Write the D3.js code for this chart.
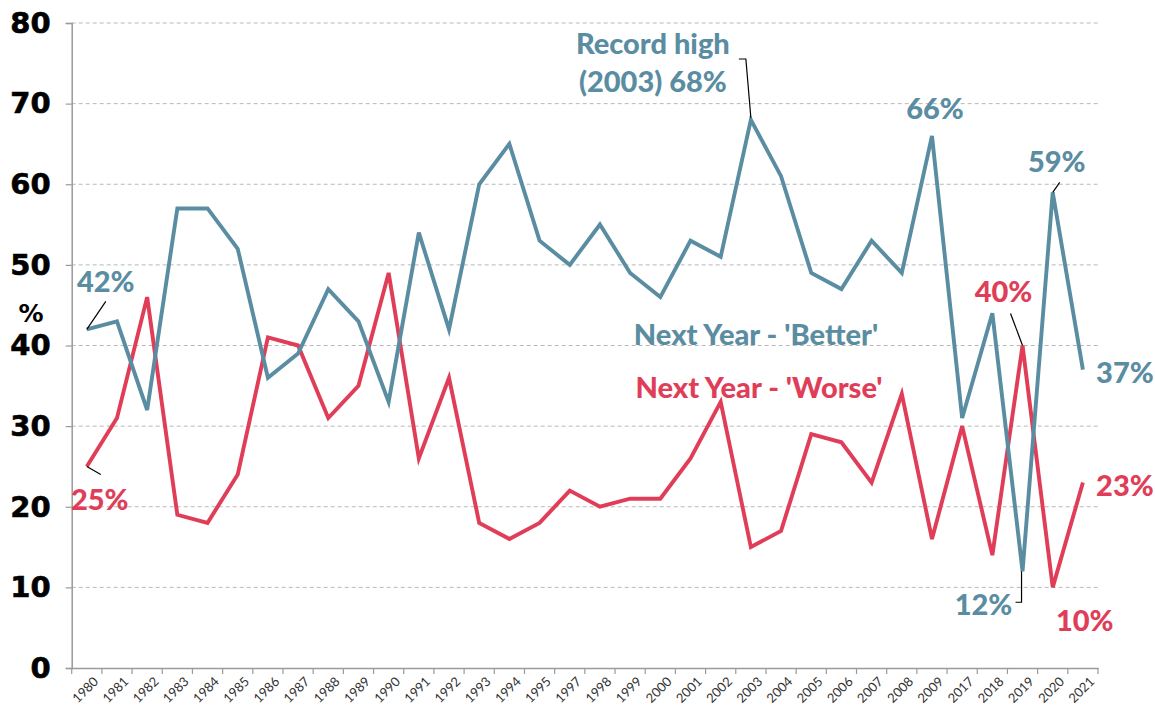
<!DOCTYPE html>
<html>
<head>
<meta charset="utf-8">
<script src="https://cdn.jsdelivr.net/npm/d3@7"></script>
<style>
  body { margin: 0; background: #fff; }
  svg { display: block; }
</style>
</head>
<body>
<div id="chart"></div>
<script>
// Data
const years = ["1980","1981","1982","1983","1984","1985","1986","1987","1988","1989","1990",
  "1991","1992","1993","1994","1995","1997","1998","1999","2000","2001","2002","2003","2004",
  "2005","2006","2007","2008","2009","2017","2018","2019","2020","2021"];
const better = [42,43,32,57,57,52,36,39,47,43,33,54,42,60,65,53,50,55,49,46,53,51,68,61,49,47,53,49,66,31,44,12,59,37];
const worse  = [25,31,46,19,18,24,41,40,31,35,49,26,36,18,16,18,22,20,21,21,26,33,15,17,29,28,23,34,16,30,14,40,10,23];
const yTicks = [0,10,20,30,40,50,60,70,80];

const BLUE = "#5a8da2";
const RED = "#e03e58";
const LABEL_FONT = "Lato, 'Open Sans', sans-serif";

const width = 1155, height = 714;
const margin = { left: 71.7, right: 57, top: 23, bottom: 46 };

const svg = d3.select("#chart").append("svg")
  .attr("width", width).attr("height", height);

const x = d3.scaleBand().domain(years).range([margin.left, width - margin.right]);
const y = d3.scaleLinear().domain([0, 80]).range([height - margin.bottom, margin.top]);
const px = (yr) => x(yr) + x.bandwidth() / 2;

// gridlines
svg.append("g")
  .selectAll("line")
  .data(yTicks.filter((d) => d > 0))
  .join("line")
  .attr("x1", margin.left).attr("x2", width - margin.right)
  .attr("y1", (d) => y(d)).attr("y2", (d) => y(d))
  .attr("stroke", "#b8b8b8").attr("stroke-width", 1)
  .attr("stroke-dasharray", "4 3");

// y axis
const yAxis = svg.append("g")
  .attr("transform", `translate(${margin.left},0)`)
  .call(d3.axisLeft(y).tickValues(yTicks).tickSize(6).tickPadding(15));
yAxis.select(".domain").attr("stroke", "#9a9a9a").attr("stroke-width", 1.5);
yAxis.selectAll(".tick line").attr("stroke", "#9a9a9a").attr("stroke-width", 1.2);
yAxis.selectAll("text")
  .attr("font-family", "'DejaVu Sans', Verdana, sans-serif")
  .attr("font-weight", "bold").attr("font-size", 29).attr("fill", "#000")
  .style("paint-order", "stroke").attr("stroke", "#000").attr("stroke-width", 0.6);

// x axis
const xAxis = svg.append("g")
  .attr("transform", `translate(0,${y(0)})`)
  .call(d3.axisBottom(x).tickSize(0).tickSizeOuter(0));
xAxis.select(".domain").attr("stroke", "#9a9a9a").attr("stroke-width", 1.5);
xAxis.selectAll(".tick text")
  .attr("font-family", LABEL_FONT).attr("font-size", 13).attr("fill", "#333")
  .attr("text-anchor", "end")
  .attr("transform", "translate(7,9) rotate(-45)")
  .attr("dy", "0.35em");
// tick marks at band boundaries
svg.append("g")
  .selectAll("line")
  .data(years.concat(["end"]))
  .join("line")
  .attr("x1", (d, i) => margin.left + i * x.step())
  .attr("x2", (d, i) => margin.left + i * x.step())
  .attr("y1", y(0)).attr("y2", y(0) + 6)
  .attr("stroke", "#9a9a9a").attr("stroke-width", 1.2);

// "%" axis label
svg.append("text")
  .attr("x", 31).attr("y", 322)
  .attr("text-anchor", "middle")
  .attr("font-family", "'DejaVu Sans', Verdana, sans-serif")
  .attr("font-weight", "bold").attr("font-size", 25)
  .text("%");

// lines
const line = (vals) => d3.line()
  .x((d, i) => px(years[i]))
  .y((d) => y(d))(vals);

svg.append("path").attr("d", line(worse))
  .attr("fill", "none").attr("stroke", RED).attr("stroke-width", 3.9)
  .attr("stroke-linejoin", "miter");
svg.append("path").attr("d", line(better))
  .attr("fill", "none").attr("stroke", BLUE).attr("stroke-width", 3.9)
  .attr("stroke-linejoin", "miter");

// annotations
const pt = (series, yr) => {
  const vals = series === "better" ? better : worse;
  return [px(yr), y(vals[years.indexOf(yr)])];
};

function label(text, cx, cy, color, size = 29) {
  svg.append("text")
    .attr("x", cx).attr("y", cy)
    .attr("text-anchor", "middle").attr("dominant-baseline", "central")
    .attr("font-family", LABEL_FONT).attr("font-weight", 900)
    .attr("font-size", size).attr("fill", color)
    .text(text);
}
function leader(points) {
  svg.append("path")
    .attr("d", d3.line()(points))
    .attr("fill", "none").attr("stroke", "#000").attr("stroke-width", 1.2);
}

let p;
p = pt("better", "1980");
label("42%", p[0] + 19, p[1] - 49, BLUE);
leader([[p[0], p[1]], [p[0] + 19, p[1] - 28]]);

p = pt("worse", "1980");
label("25%", p[0] + 13, p[1] + 32, RED);
leader([[p[0], p[1]], [p[0] + 14, p[1] + 8]]);

p = pt("better", "2003");
label("Record high", p[0] - 98, 42, BLUE);
label("(2003) 68%", p[0] - 98, 80, BLUE);
leader([[p[0], p[1] - 2], [p[0] - 5, 59], [p[0] - 12, 59]]);

p = pt("better", "2009");
label("66%", p[0] + 3, p[1] - 28, BLUE);

p = pt("better", "2020");
label("59%", p[0] + 4, p[1] - 32, BLUE);
leader([[p[0], p[1]], [p[0] + 7, p[1] - 10]]);

p = pt("worse", "2019");
label("40%", p[0] - 19, p[1] - 55, RED);
leader([[p[0], p[1]], [p[0] - 12, p[1] - 32]]);

p = pt("better", "2019");
label("12%", p[0] - 39, p[1] + 32, BLUE);
leader([[p[0] - 1, p[1]], [p[0] - 1, p[1] + 31], [p[0] - 7, p[1] + 31]]);

p = pt("worse", "2020");
label("10%", p[0] + 32, p[1] + 32, RED);

p = pt("better", "2021");
label("37%", p[0] + 42, p[1] + 2, BLUE);

p = pt("worse", "2021");
label("23%", p[0] + 42, p[1] + 2, RED);

// series names
label("Next Year - 'Better'", 756, 333, BLUE);
label("Next Year - 'Worse'", 759, 386, RED);
</script>
</body>
</html>
